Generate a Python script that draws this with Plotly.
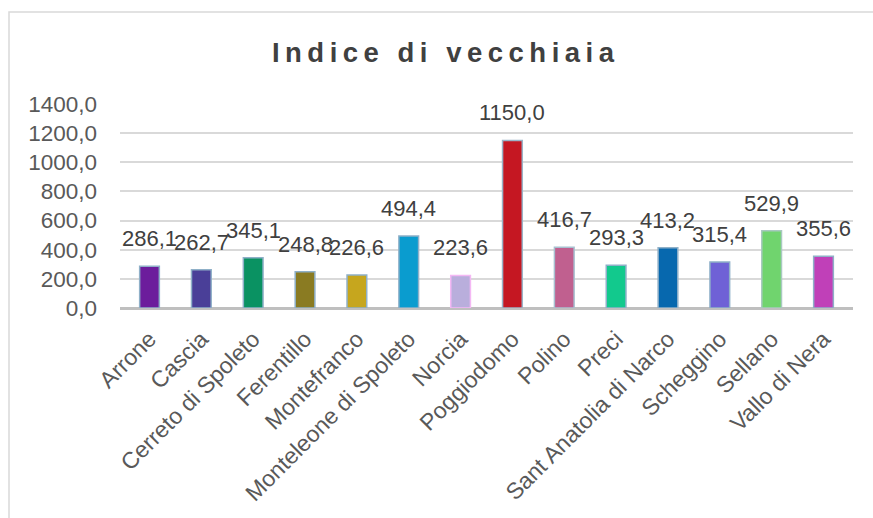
import plotly.graph_objects as go

categories = ["Arrone", "Cascia", "Cerreto di Spoleto", "Ferentillo", "Montefranco",
              "Monteleone di Spoleto", "Norcia", "Poggiodomo", "Polino", "Preci",
              "Sant Anatolia di Narco", "Scheggino", "Sellano", "Vallo di Nera"]
values = [286.1, 262.7, 345.1, 248.8, 226.6, 494.4, 223.6, 1150.0, 416.7, 293.3,
          413.2, 315.4, 529.9, 355.6]
bar_colors = ["#6c1d9c", "#4a3f98", "#0a9262", "#8a7b22", "#c6a61e", "#0a9ccf",
              "#b9aedc", "#c51722", "#c0608f", "#12c98d", "#0768ae", "#6f61d6",
              "#70d46e", "#c040b8"]
line_colors = ["#8fb0c8", "#8fb0c8", "#8fb0c8", "#8fb0c8", "#8fb0c8", "#8fb0c8",
               "#f4b8f4", "#9ab4c8", "#a8c0d0", "#8fb0c8", "#8fb0c8", "#8fb0c8",
               "#a8c8c0", "#8fb0c8"]
y_ticks = [0, 200, 400, 600, 800, 1000, 1200, 1400]
title_text = "Indice di vecchiaia"

W, H = 873, 518
L, R, T, B = 120, 20, 104, 210
FONT = "Liberation Sans, Arial, sans-serif"

fig = go.Figure()
fig.add_trace(go.Bar(
    x=categories, y=values,
    marker=dict(color=bar_colors, line=dict(color=line_colors, width=1.5)),
    hoverinfo="x+y",
))

for c, v in zip(categories, values):
    fig.add_annotation(x=c, y=v, text=f"{v:.1f}".replace(".", ","),
                       showarrow=False, yanchor="bottom", yshift=13,
                       font=dict(size=22, color="#404040", family=FONT))

spaced = "\u2009\u00a0\u2009".join("\u2009".join(list(w)) for w in title_text.split(" "))

plot_w = W - L - R
plot_h = H - T - B
fig.add_shape(type="rect", xref="paper", yref="paper",
              x0=(9 - L) / plot_w, x1=1.5, y0=-3, y1=1 + (T - 12) / plot_h,
              line=dict(color="#d9d9d9", width=1.5), fillcolor="rgba(0,0,0,0)", layer="below")

fig.update_layout(
    width=W, height=H,
    margin=dict(l=L, r=R, t=T, b=B, autoexpand=False),
    paper_bgcolor="white", plot_bgcolor="white",
    separators=",.",
    showlegend=False,
    bargap=0.62,
    title=dict(text=spaced, x=443 / W, xanchor="center", y=1 - 52 / H, yanchor="middle",
               font=dict(size=27.5, color="#404040", family=FONT, weight="bold")),
    font=dict(family=FONT, color="#595959"),
    xaxis=dict(tickangle=-45, tickfont=dict(size=23, color="#595959"),
               showgrid=False, showline=False, ticks="", zeroline=False,
               ticklabelstandoff=12, fixedrange=True),
    yaxis=dict(range=[0, 1400], tickvals=y_ticks, tickformat=".1f",
               tickfont=dict(size=22.5, color="#595959"),
               showgrid=True, gridcolor="#d9d9d9", gridwidth=1.5,
               zeroline=True, zerolinecolor="#bfbfbf", zerolinewidth=3,
               showline=False, ticks="", ticklabelstandoff=22, fixedrange=True),
)

fig.write_html("out.html", config={"displayModeBar": False},
               post_script="document.body.style.margin='0';")
